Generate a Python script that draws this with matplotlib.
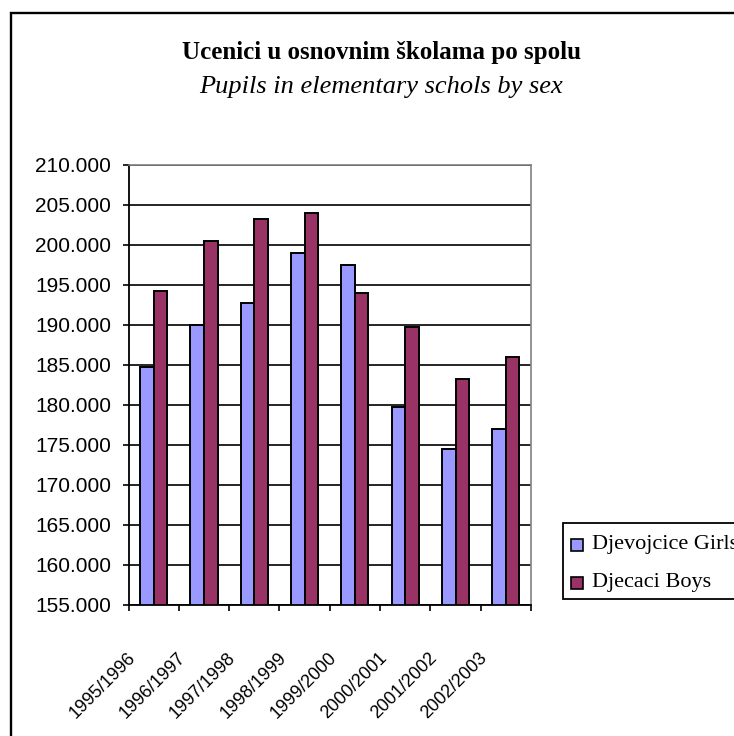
import matplotlib
matplotlib.use("Agg")
import matplotlib.pyplot as plt
import matplotlib.patches as mpatches
import matplotlib.transforms as mtransforms
import numpy as np

categories = ["1995/1996", "1996/1997", "1997/1998", "1998/1999",
              "1999/2000", "2000/2001", "2001/2002", "2002/2003"]
girls = [184750, 190000, 192750, 199000, 197500, 179750, 174500, 177000]
boys = [194250, 200500, 203250, 204000, 194000, 189750, 183200, 186000]
series_names = ["Djevojcice Girls", "Djecaci Boys"]
yticks = [155000, 160000, 165000, 170000, 175000, 180000, 185000,
          190000, 195000, 200000, 205000, 210000]
ytick_labels = ["155.000", "160.000", "165.000", "170.000", "175.000",
                "180.000", "185.000", "190.000", "195.000", "200.000",
                "205.000", "210.000"]
title = "Ucenici u osnovnim školama po spolu"
subtitle = "Pupils in elementary schols by sex"

W, H = 734, 736
DPI = 100
fig = plt.figure(figsize=(W / DPI, H / DPI), dpi=DPI)
fig.patch.set_facecolor("white")

def fx(px):
    return px / W

def fy(py):
    return 1 - py / H

# outer chart frame (clipped at right and bottom)
frame = mpatches.Rectangle((fx(11), fy(780)), fx(800) - fx(11), fy(13) - fy(780),
                           transform=fig.transFigure, fill=False,
                           edgecolor="black", linewidth=1.7, zorder=0)
fig.patches.append(frame)

left, right, top, bottom = 128.5, 531, 165, 605
ax = fig.add_axes([fx(left), fy(bottom), fx(right) - fx(left), fy(top) - fy(bottom)])

x = np.arange(len(categories))
bw = 0.27
girls_color = "#9999FF"
boys_color = "#993366"
colors = [girls_color, boys_color]
ax.bar(x - bw / 2, girls, width=bw, color=girls_color, edgecolor="black",
       linewidth=1.4, zorder=2, label=series_names[0])
ax.bar(x + bw / 2, boys, width=bw, color=boys_color, edgecolor="black",
       linewidth=1.4, zorder=2, label=series_names[1])

ax.set_xlim(-0.5, len(categories) - 0.5)
ax.set_ylim(yticks[0], yticks[-1])
ax.set_yticks(yticks)
ax.set_yticklabels(ytick_labels, fontsize=15, family="Liberation Sans")
ax.set_xticks(np.arange(len(categories) + 1) - 0.5)
ax.set_xticklabels([])
ax.tick_params(axis="y", direction="out", length=4.5, width=1.2, pad=8)
ax.tick_params(axis="x", direction="out", length=4.5, width=1.2)

ax.set_axisbelow(True)
ax.yaxis.grid(True, color="black", linewidth=1.2, zorder=0)
for s in ["left", "bottom"]:
    ax.spines[s].set_color("black")
    ax.spines[s].set_linewidth(1.3)
for s in ["top", "right"]:
    ax.spines[s].set_color("#808080")
    ax.spines[s].set_linewidth(1.2)

# rotated category labels
trans = mtransforms.offset_copy(ax.get_xaxis_transform(), fig=fig,
                                x=-27, y=-44, units="dots")
for i, lab in enumerate(categories):
    ax.text(i, 0, lab, transform=trans, rotation=45, rotation_mode="anchor",
            ha="right", va="top", fontsize=13, family="Liberation Sans",
            clip_on=False)

# titles
fig.text(fx(381.5), fy(59.3), title, ha="center", va="baseline",
         fontsize=18, fontweight="bold", family="Liberation Serif")
fig.text(fx(381), fy(92.7), subtitle, ha="center", va="baseline",
         fontsize=19, fontstyle="italic", family="Liberation Serif")

# legend (drawn as a box; it runs past the right edge like the original)
leg_box = mpatches.Rectangle((fx(563), fy(599)), fx(800) - fx(563), fy(523) - fy(599),
                             transform=fig.transFigure, facecolor="white",
                             edgecolor="black", linewidth=1.3, zorder=3)
fig.patches.append(leg_box)
row_y = [545, 583]
for name, col, ry in zip(series_names, colors, row_y):
    sq = mpatches.Rectangle((fx(571), fy(ry + 6)), fx(583) - fx(571), fy(ry - 6) - fy(ry + 6),
                            transform=fig.transFigure, facecolor=col,
                            edgecolor="black", linewidth=1.2, zorder=4)
    fig.patches.append(sq)
    fig.text(fx(591.5), fy(ry), name, ha="left", va="center", fontsize=16,
             family="Liberation Serif", zorder=5)

fig.savefig("out.png", dpi=DPI)
